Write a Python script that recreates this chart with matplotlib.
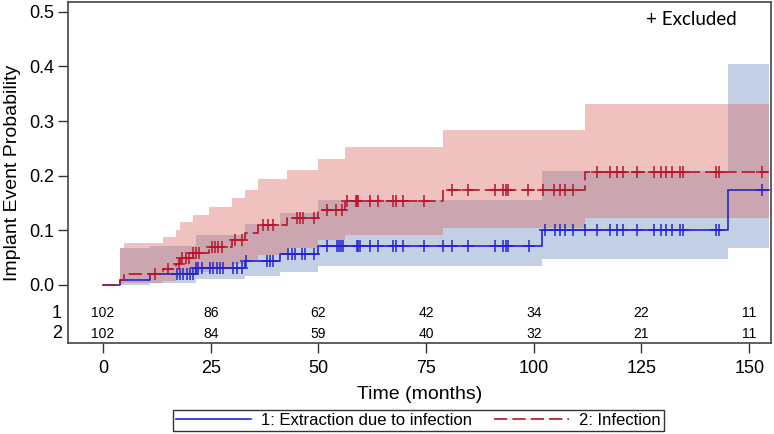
import numpy as np
import matplotlib
matplotlib.use('Agg')
import matplotlib.pyplot as plt
from matplotlib.lines import Line2D
from matplotlib.transforms import blended_transform_factory

plt.rcParams['font.family'] = ['Liberation Sans', 'DejaVu Sans']

# ---------------- data ----------------
end_time = 154.5

# Group 1: Extraction due to infection (cumulative incidence)
blue_t = [0, 3.9, 10.9, 21.5, 33.0, 41.0, 50.0, 101.8, 145.0]
blue_p = [0, 0.0098, 0.0196, 0.031, 0.043, 0.056, 0.072, 0.1007, 0.174]
blue_hi = [0.067, 0.072, 0.0916, 0.112, 0.132, 0.156, 0.209, 0.404]
blue_lo = [0.0005, 0.003, 0.0105, 0.016, 0.023, 0.034, 0.047, 0.068]
blue_cens = [17.1, 17.9, 18.6, 19.4, 20.2, 21.0, 21.6, 22.1, 22.9, 24.8, 25.6, 26.4,
             27.1, 27.9, 30.2, 31.0, 32.2, 33.3, 38.0, 38.8, 39.5, 43.0, 43.8, 44.6,
             46.1, 46.9, 49.0, 51.9, 54.3, 54.8, 55.3, 55.7, 58.9, 59.3, 59.7, 62.0,
             63.9, 67.3, 67.9, 69.6, 74.4, 79.0, 81.0, 84.8, 91.0, 92.9, 93.5, 94.1,
             98.9, 102.5, 105.0, 106.0, 107.3, 109.0, 111.9, 114.7, 117.7, 119.2,
             120.7, 123.9, 128.0, 129.6, 130.8, 132.0, 134.0, 134.7, 142.4, 143.0, 152.9]

# Group 2: Infection
red_t = [0, 3.9, 4.9, 14.0, 16.9, 17.9, 20.8, 24.6, 29.9, 33.0, 36.0, 42.7, 50.0, 56.2, 79.0, 111.9]
red_p = [0, 0.0098, 0.0196, 0.029, 0.039, 0.049, 0.059, 0.069, 0.082, 0.096, 0.109, 0.122,
         0.137, 0.154, 0.174, 0.206]
red_hi = [0.067, 0.076, 0.087, 0.100, 0.115, 0.128, 0.143, 0.159, 0.174, 0.194, 0.210,
          0.231, 0.253, 0.283, 0.331]
red_lo = [0.001, 0.003, 0.007, 0.012, 0.018, 0.024, 0.031, 0.038, 0.046, 0.055, 0.068,
          0.083, 0.0916, 0.105, 0.123]
red_cens = [12.1, 15.2, 17.6, 18.4, 19.2, 20.0, 20.8, 21.7, 22.4, 25.2, 26.0, 26.8, 27.6,
            30.6, 32.2, 37.2, 38.3, 39.5, 45.0, 45.8, 46.5, 49.0, 51.9, 54.2, 55.4, 56.6,
            58.7, 59.0, 59.3, 61.9, 63.9, 67.3, 68.1, 69.6, 74.4, 80.9, 84.8, 91.0, 92.9,
            93.5, 94.1, 98.7, 102.2, 104.7, 106.0, 107.3, 109.0, 114.7, 117.7, 119.2,
            120.7, 123.9, 128.0, 129.6, 130.8, 132.0, 134.0, 134.7, 142.4, 143.0, 152.9]

risk_times = [0, 25, 50, 75, 100, 125, 150]
risk_1 = [102, 86, 62, 42, 34, 22, 11]
risk_2 = [102, 84, 59, 40, 32, 21, 11]

labels = ['1: Extraction due to infection', '2: Infection']
blue_col = '#2424d0'
red_col = '#b8142a'
blue_fill = '#6b87c0'
red_fill = '#d96661'


def step_value(times, vals, x):
    idx = np.searchsorted(np.asarray(times), np.asarray(x), side='right') - 1
    return np.asarray(vals)[idx]


fig = plt.figure(figsize=(7.74, 4.34), dpi=100)
ax = fig.add_axes([68 / 774, 1 - 343 / 434, (771 - 68) / 774, (343 - 2) / 434])

# confidence bands
bt = list(blue_t[1:]) + [end_time]
ax.fill_between(bt, blue_lo + [blue_lo[-1]], blue_hi + [blue_hi[-1]], step='post',
                color=blue_fill, alpha=0.4, linewidth=0)
rt = list(red_t[1:]) + [end_time]
ax.fill_between(rt, red_lo + [red_lo[-1]], red_hi + [red_hi[-1]], step='post',
                color=red_fill, alpha=0.4, linewidth=0)

# step curves
ax.step(list(blue_t) + [end_time], list(blue_p) + [blue_p[-1]], where='post',
        color=blue_col, lw=1.2)
ax.step(list(red_t) + [end_time], list(red_p) + [red_p[-1]], where='post',
        color=red_col, lw=1.2, linestyle=(0, (8, 3)))

# censor marks
ax.plot(blue_cens, step_value(blue_t, blue_p, blue_cens), linestyle='none', marker='+',
        color=blue_col, ms=8, mew=1.1)
ax.plot(red_cens, step_value(red_t, red_p, red_cens), linestyle='none', marker='+',
        color=red_col, ms=8, mew=1.1)

ax.set_xlim(-8.12, 155.06)
ax.set_ylim(-0.1062, 0.518)
ax.set_xticks(risk_times)
ax.set_yticks([0.0, 0.1, 0.2, 0.3, 0.4, 0.5])
ax.set_yticklabels([f'{v:.1f}' for v in [0.0, 0.1, 0.2, 0.3, 0.4, 0.5]])
ax.tick_params(axis='both', labelsize=13, length=7, width=1, color='#333333',
               pad=3)
ax.tick_params(axis='x', pad=5)
for s in ax.spines.values():
    s.set_color('#444444')
    s.set_linewidth(1.2)

ax.set_xlabel('Time (months)', fontsize=14, labelpad=7)
ax.set_ylabel('Implant Event Probability', fontsize=14, labelpad=6)

# at-risk table inside the axes
for t, n1, n2 in zip(risk_times, risk_1, risk_2):
    ax.text(t, -0.052, str(n1), ha='center', va='center', fontsize=10)
    ax.text(t, -0.0895, str(n2), ha='center', va='center', fontsize=10)
trans = blended_transform_factory(ax.transAxes, ax.transData)
ax.text(-0.009, -0.052, '1', transform=trans, ha='right', va='center', fontsize=13)
ax.text(-0.009, -0.0895, '2', transform=trans, ha='right', va='center', fontsize=13)

ax.text(0.822, 0.95, '+ Excluded', transform=ax.transAxes, ha='left', va='center',
        fontsize=13.5, family=['Lato', 'DejaVu Sans'])

handles = [Line2D([], [], color=blue_col, lw=1.2),
           Line2D([], [], color=red_col, lw=1.2, linestyle=(0, (8, 3)))]
fig.legend(handles, labels, loc='center', bbox_to_anchor=(418.5 / 774, 1 - 420.5 / 434),
           ncol=2, frameon=True, fancybox=False, edgecolor='black', fontsize=12,
           handlelength=4.5, columnspacing=1.3, borderpad=0.2, handletextpad=0.6)

fig.savefig('out.png', dpi=100)
